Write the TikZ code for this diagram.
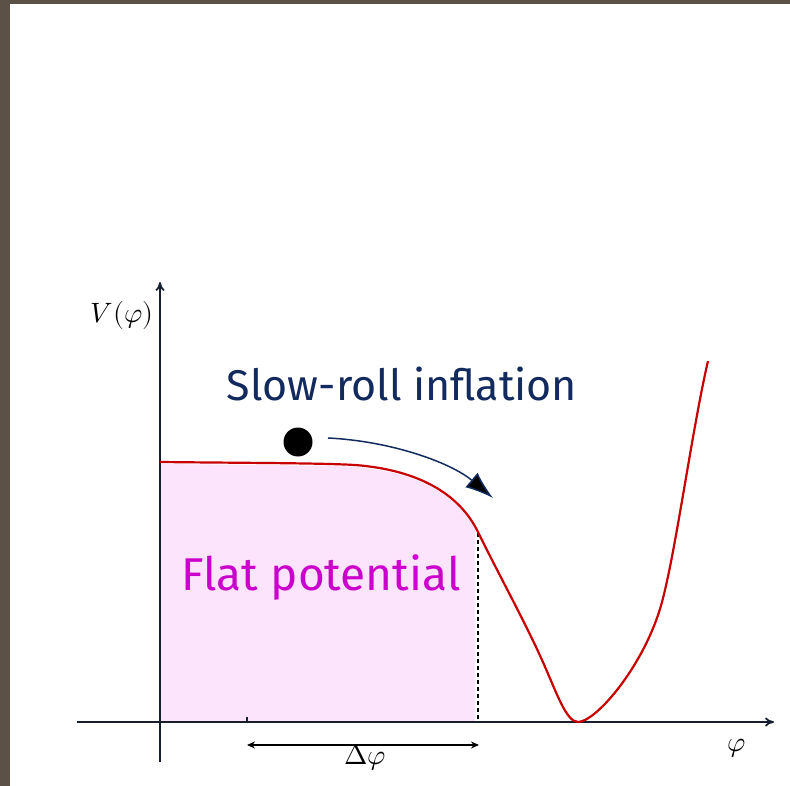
\documentclass[tikz,border=0pt]{standalone}
\usepackage{fontspec}
\setmainfont{Fira Sans}
\usepackage{unicode-math}
\usetikzlibrary{arrows.meta}
\definecolor{frame}{RGB}{91,81,71}
\definecolor{axis}{RGB}{22,30,48}
\definecolor{curvered}{RGB}{200,0,0}
\definecolor{pinkfill}{RGB}{253,228,253}
\definecolor{navy}{RGB}{18,42,94}
\definecolor{magenta}{RGB}{204,0,204}
\tikzset{
  axisline/.style={line width=1.8pt, draw=axis, -{To[length=9pt,width=9pt]}},
  potline/.style={line width=2.2pt, draw=curvered},
  mathlabel/.style={inner sep=0pt, font=\fontsize{28}{32}\selectfont},
  handlabel/.style={inner sep=0pt},
}
\begin{document}
\begin{tikzpicture}[x=1pt,y=-1pt]
\useasboundingbox (0,0) rectangle (790,786);
\fill[white] (0,0) rectangle (790,786);
\fill[frame] (0,0) rectangle (790,4);
\fill[frame] (0,0) rectangle (10,786);
% pink fill
\begin{scope}
\clip (160,0) rectangle (475,720.5);
\fill[pinkfill] (160,464) .. controls (250,465) and (320,465) .. (355,467)
  .. controls (420,472) and (460,497) .. (478,534)
  -- (500,722) -- (160,722) -- cycle;
\end{scope}
% dashed line
\coordinate (dtop) at (478,533);
\coordinate (dbot) at (478,722);
\draw[line width=1.3pt, dash pattern=on 4pt off 3pt] (dtop) -- (dbot);
% axes
\coordinate (xs) at (77,722);
\coordinate (xe) at (774,722);
\coordinate (ys) at (160,762);
\coordinate (ye) at (160,282);
\draw[axisline] (xs) -- (xe);
\draw[axisline] (ys) -- (ye);
% potential curve
\draw[potline] (160,462) .. controls (250,463) and (320,463) .. (355,465)
  .. controls (420,470) and (460,495) .. (478,532)
  .. controls (497,571) and (525,622) .. (542,660)
  .. controls (556,691) and (566,722) .. (578,722)
  .. controls (596,722) and (645,665) .. (662,602)
  .. controls (676,550) and (692,430) .. (708,361);
% tick and delta arrow
\coordinate (tick) at (247,717);
\coordinate (tickb) at (247,722);
\draw[line width=1.2pt, axis] (tick) -- (tickb);
\coordinate (da) at (247,745);
\coordinate (db) at (479,745);
\draw[line width=1.4pt, {Stealth[length=8pt,width=7pt]}-{Stealth[length=8pt,width=7pt]}] (da) -- (db);
% labels
\node[mathlabel] (V) at (122,316) {$V(\varphi)$};
\node[mathlabel] (phi) at (737,748) {$\varphi$};
\node[mathlabel] (dphi) at (365,758) {$\Delta\varphi$};
\node[handlabel, text=navy, font=\fontsize{43}{48}\selectfont] (slow) at (402,384) {Slow-roll inflation};
\node[handlabel, text=magenta, font=\fontsize{46}{52}\selectfont] (flat) at (321,577) {Flat potential};
% ball and arrow
\node[circle, fill=black, minimum size=29pt, inner sep=0pt] (ball) at (298,442) {};
\coordinate (arrtip) at (493,498);
\draw[line width=1.5pt, draw=navy, -{Latex[length=28pt,width=19pt,fill=black]}] (328,438) .. controls (390,441) and (450,462) .. (arrtip);
\end{tikzpicture}
\end{document}
